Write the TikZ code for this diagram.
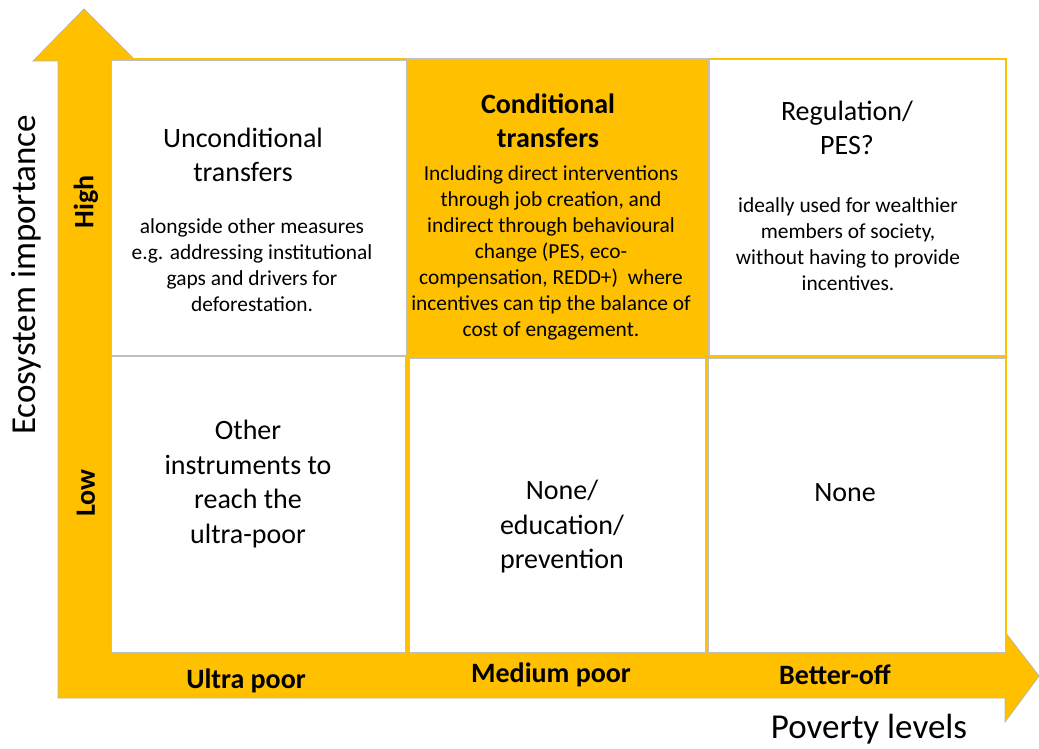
\documentclass[tikz,border=0pt]{standalone}
\usepackage{fontspec}
\setmainfont{Carlito}
\definecolor{gold}{HTML}{FFC000}
\definecolor{edge}{HTML}{BFB59A}
\definecolor{cellline}{HTML}{BFBFBF}
\begin{document}
\begin{tikzpicture}[x=1pt,y=-1pt,
  cell/.style={draw=cellline,line width=0.8pt,fill=white},
  title/.style={align=center,font=\fontsize{28}{34.5}\selectfont,inner sep=0pt},
  btitle/.style={align=center,font=\fontsize{28}{34.5}\selectfont\bfseries,inner sep=0pt},
  small/.style={align=center,font=\fontsize{21.4}{26}\selectfont,inner sep=0pt},
  axislab/.style={font=\fontsize{28}{34}\selectfont\bfseries,inner sep=0pt},
  axistitle/.style={font=\fontsize{35}{42}\selectfont,inner sep=0pt}]
\useasboundingbox (0,0) rectangle (1039,749);
% arrows (L-shaped band with two heads)
\fill[gold,draw=edge,line width=0.8pt] (58,61) -- (33,61) -- (84,9) -- (136,61) -- (110,61)
  -- (110,652) -- (1005,652) -- (1005,632) -- (1039,676) -- (1005,722) -- (1005,698)
  -- (58,698) -- cycle;
% grid background
\fill[gold] (110,58) rectangle (1007,653);
% cells
\draw[cell] (111,60) rectangle (406,355);
\draw[cell,fill=gold] (406,58) rectangle (708,355);
\draw[cell] (709,59) rectangle (1005,355);
\draw[cell] (111,356) rectangle (405,652);
\draw[cell] (409,358) rectangle (705,652);
\draw[cell] (708,358) rectangle (1005,652);
% texts
\node[title] (tlt) at (243,155) {Unconditional\\transfers};
\node[small] (tls) at (252,265) {alongside other measures\\e.g. addressing institutional\\gaps and drivers for\\deforestation.};
\node[btitle] (tmt) at (548,121) {Conditional\\transfers};
\node[small] (tms) at (551,253) {Including direct interventions\\through job creation, and\\indirect through behavioural\\change (PES, eco-\\compensation, REDD+)\ \ where\\incentives can tip the balance of\\cost of engagement.};
\node[title] (trt) at (847,128) {Regulation/\\PES?};
\node[small] (trs) at (848,244) {ideally used for wealthier\\members of society,\\without having to provide\\incentives.};
\node[title] (bl) at (248,484) {Other\\instruments to\\reach the\\ultra-poor};
\node[title] (bm) at (562,527) {None/\\education/\\prevention};
\node[title] (br) at (845,493) {None};
% axis labels
\node[axislab] (ult) at (246,681) {Ultra poor};
\node[axislab] (med) at (551,675) {Medium poor};
\node[axislab] (bet) at (835,675) {Better-off};
\node[axislab,rotate=90] (high) at (86,202) {High};
\node[axislab,rotate=90] (low) at (86,493) {Low};
\node[axistitle,rotate=90] (eco) at (26,275) {Ecosystem importance};
\node[axistitle] (pov) at (869,729) {Poverty levels};
\end{tikzpicture}
\end{document}
